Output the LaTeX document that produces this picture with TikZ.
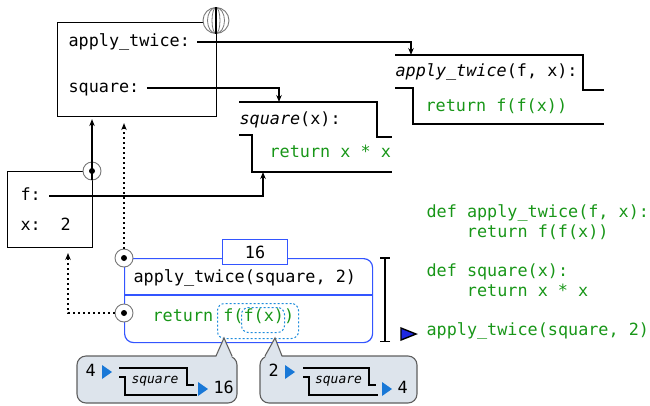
\documentclass[tikz,border=0pt]{standalone}
\usepackage{fontspec}
\setmonofont{DejaVu Sans Mono}[ItalicFont={DejaVu Sans Mono Oblique}]
\usetikzlibrary{arrows.meta,calc}

\definecolor{codegreen}{RGB}{24,150,24}
\definecolor{callblue}{RGB}{51,85,255}
\definecolor{dashblue}{RGB}{30,140,220}
\definecolor{bubblefill}{RGB}{221,228,236}
\definecolor{bubbleline}{RGB}{95,95,95}
\definecolor{tipblue}{RGB}{25,120,215}
\definecolor{ptrblue}{RGB}{30,40,225}
\definecolor{ringgray}{RGB}{120,120,120}

\newcommand{\codefont}{\fontsize{16.8}{20}\selectfont\ttfamily}
\newcommand{\tagfont}{\fontsize{13}{15}\selectfont\ttfamily\itshape}

\tikzset{
  lbl/.style={anchor=west, inner sep=0pt, text height=12pt, text depth=3.5pt, font=\codefont},
  code/.style={lbl, text=codegreen},
  framebox/.style={draw, inner sep=0pt, anchor=north west},
  ptr/.style={-{Stealth[length=7pt,width=5.5pt]}, line width=1.1pt},
  refptr/.style={-{Stealth[length=7pt,width=5.5pt]}, line width=1.6pt, dash pattern=on 1.6pt off 3.4pt},
  refdot/.style={circle, draw=ringgray, fill=white, line width=0.9pt, minimum size=18pt, inner sep=0pt},
  dashbox/.style={draw=dashblue, line width=1pt, dash pattern=on 2pt off 2pt, rounded corners=7pt, inner sep=0pt, anchor=north west},
  bubble/.style={fill=bubblefill, draw=bubbleline, line width=1.1pt, rounded corners=9pt},
  machine/.style={line width=1.1pt},
}

\begin{document}
\begin{tikzpicture}[x=1pt, y=-1pt, line width=1.1pt]
\path[use as bounding box] (0,0) rectangle (650,405);

% ---- global frame ----
\node[framebox, minimum width=159pt, minimum height=94pt] (gframe) at (57,22) {};
\node[lbl] (gat) at (68,42) {apply\_twice:};
\node[lbl] (gsq) at (68,88) {square:};
\node[circle, draw=ringgray, fill=white, line width=0.9pt, minimum size=26pt, inner sep=0pt] (globe) at (216,20.5) {};
\draw[ringgray, line width=0.8pt] (globe.center) ellipse (4pt and 13pt);
\draw[ringgray, line width=0.8pt] (globe.center) ellipse (8.5pt and 13pt);
\draw[line width=1.1pt] (globe.north) -- (globe.south);

% ---- function apply_twice ----
\draw (395,55) -- (583,55) -- (583,90) -- (604,90);
\draw (395,88) -- (413,88) -- (413,124) -- (604,124);
\coordinate (atin) at (411,55);
\node[lbl] (athead) at (395,72) {\itshape apply\_twice\upshape(f, x):};
\node[code] (atbody) at (425,107) {return f(f(x))};

% ---- function square ----
\draw (239,102) -- (377,102) -- (377,137) -- (392,137);
\draw (239,135) -- (252,135) -- (252,172) -- (392,172);
\coordinate (sqin) at (279,102);
\coordinate (sqbot) at (263,172);
\node[lbl] (sqhead) at (239,120) {\itshape square\upshape(x):};
\node[code] (sqbody) at (269,153) {return x * x};

\draw[ptr] ([xshift=7pt]gat.east) -| (atin);
\draw[ptr] ([xshift=7pt]gsq.east) -| (sqin);

% ---- frame f / x ----
\node[framebox, minimum width=85pt, minimum height=76pt] (fframe) at (7,171) {};
\node[lbl] (ff) at (20,196) {f:};
\node[lbl] (fx) at (20,226) {x:};
\node[lbl] (fxv) at (60,226) {2};
\draw[ptr] ([xshift=8pt]ff.east) -| (sqbot);
\node[refdot] (fpar) at (92,171) {};
\draw (fpar.center) -- (fpar.south);
\draw[ptr, line width=1.6pt, shorten >=2pt] (fpar.center) -- (fpar.center |- gframe.south);
\fill (fpar.center) circle (3pt);

% ---- call frame ----
\node[draw=callblue, line width=1.2pt, rounded corners=9pt, minimum width=248pt, minimum height=84pt, anchor=north west, inner sep=0pt] (cframe) at (124,258) {};
\draw[callblue, line width=1.1pt] (cframe.west |- 0,295) -- (cframe.east |- 0,295);
\node[draw=callblue, line width=1.2pt, fill=white, minimum width=65pt, minimum height=25pt, anchor=north west, inner sep=0pt, font=\codefont] (retval) at (222,239) {16};
\node[lbl] (cexpr) at (133,278) {apply\_twice(square, 2)};
\node[code] (cret) at (152,317) {return f(f(x))};
\node[dashbox, minimum width=81pt, minimum height=35pt] (outercall) at (217,303) {};
\node[dashbox, minimum width=43pt, minimum height=25pt] (innercall) at (241,307) {};

\node[refdot] (cpar) at (124,258) {};
\node[refdot] (cretdot) at (124,313) {};
\coordinate (fin) at (68,247);
\draw[refptr, shorten >=6pt] (cpar.north) -- (cpar.north |- gframe.south);
\draw[refptr, shorten >=6pt] (cretdot.west) -| (fin);
\fill (cpar.center) circle (3pt);
\fill (cretdot.center) circle (3pt);

% ---- extent bar ----
\coordinate (bartop) at (385,257);
\coordinate (barbot) at (385,342);
\draw[{Bar[width=10pt]}-{Bar[width=10pt]}, line width=1.5pt] (bartop) -- (barbot);

% ---- source code ----
\node[code] (l1) at (426,213) {def apply\_twice(f, x):};
\node[code] (l2) at (466.4,233) {return f(f(x))};
\node[code] (l3) at (426,272) {def square(x):};
\node[code] (l4) at (466.4,292) {return x * x};
\node[code] (l5) at (426,331) {apply\_twice(square, 2)};
\draw[fill=ptrblue, line width=1.4pt, line join=miter] (401,328) -- (416,334) -- (401,340) -- cycle;

% ---- bubble: square(4) ----
\filldraw[bubble] (77,356) rectangle (237,403);
\fill[bubblefill] (216,357.5) -- (224,338) -- (232,357.5) -- cycle;
\draw[bubbleline, line width=1.1pt, line join=miter] (216,356) -- (224,338) -- (232,356);
\node[lbl] (b1in) at (85,372) {4};
\fill[tipblue] (102,365) -- (112,372) -- (102,379) -- cycle;
\draw[machine] (119,368) -- (187,368) -- (187,385) -- (194,385);
\draw[machine] (119,377) -- (125,377) -- (125,395) -- (197,395);
\node[inner sep=0pt, font=\tagfont] (b1tag) at (155,381) {square};
\fill[tipblue] (198,382) -- (208,389) -- (198,396) -- cycle;
\node[lbl] (b1out) at (213,389) {16};

% ---- bubble: square(2) ----
\filldraw[bubble] (260,356) rectangle (417,403);
\fill[bubblefill] (265,357.5) -- (275,338) -- (282,357.5) -- cycle;
\draw[bubbleline, line width=1.1pt, line join=miter] (265,356) -- (275,338) -- (282,356);
\node[lbl] (b2in) at (268,372) {2};
\fill[tipblue] (285,365) -- (295,372) -- (285,379) -- cycle;
\draw[machine] (303,368) -- (369,368) -- (369,385) -- (376,385);
\draw[machine] (303,377) -- (309,377) -- (309,395) -- (378,395);
\node[inner sep=0pt, font=\tagfont] (b2tag) at (338.5,381) {square};
\fill[tipblue] (382,382) -- (392,389) -- (382,396) -- cycle;
\node[lbl] (b2out) at (397,389) {4};
\end{tikzpicture}
\end{document}
